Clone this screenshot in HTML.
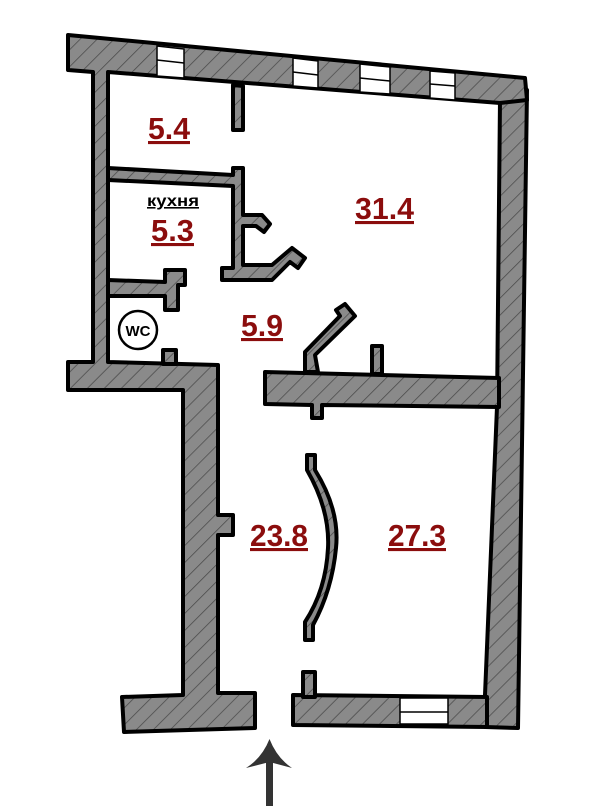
<!DOCTYPE html>
<html><head><meta charset="utf-8"><style>
html,body{margin:0;padding:0;background:#fff;}
svg{display:block}
.t{font-family:"Liberation Sans",sans-serif;font-weight:bold;fill:#8b0d0d;font-size:31px;text-decoration:underline;}
</style></head><body>
<svg width="600" height="806" viewBox="0 0 600 806" xmlns="http://www.w3.org/2000/svg">
<defs>
<pattern id="h" width="12" height="12" patternUnits="userSpaceOnUse" patternTransform="rotate(45)">
<rect width="12" height="12" fill="#8a8a8a"/>
<line x1="0" y1="0" x2="0" y2="12" stroke="#4a4a4a" stroke-width="1.5"/>
</pattern>
</defs>
<g fill="url(#h)" stroke="#000" stroke-width="4" stroke-linejoin="round">
<!-- right wall -->
<polygon points="527,90 518,728 485,727 485,695 497,407 500,100"/>
<!-- outer left + top + corridor wall -->
<polygon points="68,35 525,78 527,100 500,103 108,72 108,362 218,365 218,515 233,515 233,535 218,535 218,693 255,693 255,728 124,732 122,697 183,695 183,390 68,390 68,362 93,362 93,72 68,70"/>
<!-- bottom right wall -->
<polygon points="293,695 487,697 487,727 293,725"/>
<polygon points="303,672 315,672 315,697 303,697"/>
<!-- middle horizontal wall -->
<polygon points="265,372 499,378 499,407 322,405 322,418 312,418 312,405 265,404"/>
<!-- top stub -->
<polygon points="233,85 243,86 243,130 233,130"/>
<!-- 5.4 / kitchen wall -->
<polygon points="108,168 233,175 233,168 243,168 243,215 262,215 270,224 264,232 256,226 243,226 243,265 272,265 292,248 305,258 298,268 290,262 272,280 222,280 222,268 233,268 233,186 108,180"/>
<!-- kitchen / wc wall -->
<polygon points="108,280 165,282 165,270 185,270 185,285 178,285 178,310 165,310 165,296 108,296"/>
<!-- wc bottom stub -->
<polygon points="163,350 176,350 176,364 163,364"/>
<!-- diagonal door -->
<polygon points="305,372 305,352 340,316 336,310 345,304 355,316 315,355 318,372"/>
<polygon points="372,346 382,346 382,374 372,374"/>
<!-- arc -->
<path d="M307,455 L315,455 L315,470 Q340,510 336,548 Q332,590 313,625 L313,640 L305,640 L305,622 Q326,590 328,548 Q330,510 307,470 Z"/>
</g>
<!-- windows -->
<g fill="#fff" stroke="#000" stroke-width="1.5">
<polygon points="157,46 184,49 184,78 157,76"/>
<polygon points="293,58 318,61 318,88 293,86"/>
<polygon points="360,64 390,67 390,94 360,92"/>
<polygon points="430,71 455,73 455,100 430,98"/>
<rect x="400" y="698" width="48" height="26"/>
</g>
<g stroke="#000" stroke-width="1.5">
<line x1="157" y1="60" x2="184" y2="63"/><line x1="293" y1="72" x2="318" y2="75"/>
<line x1="360" y1="78" x2="390" y2="81"/><line x1="430" y1="84" x2="455" y2="86"/>
<line x1="400" y1="712" x2="448" y2="712"/>
</g>
<!-- WC -->
<circle cx="138" cy="330" r="19" fill="#fff" stroke="#000" stroke-width="2.5"/>
<text x="138" y="336" text-anchor="middle" font-family="Liberation Sans,sans-serif" font-weight="bold" font-size="15">WC</text>
<!-- labels -->
<text class="t" x="148" y="139" textLength="42" lengthAdjust="spacingAndGlyphs">5.4</text>
<text x="147" y="206" font-family="Liberation Sans,sans-serif" font-weight="bold" font-size="16" text-decoration="underline" textLength="52" lengthAdjust="spacingAndGlyphs">кухня</text>
<text class="t" x="151" y="241" textLength="43" lengthAdjust="spacingAndGlyphs">5.3</text>
<text class="t" x="355" y="219" textLength="59" lengthAdjust="spacingAndGlyphs">31.4</text>
<text class="t" x="241" y="336" textLength="42" lengthAdjust="spacingAndGlyphs">5.9</text>
<text class="t" x="250" y="546" textLength="58" lengthAdjust="spacingAndGlyphs">23.8</text>
<text class="t" x="388" y="546" textLength="58" lengthAdjust="spacingAndGlyphs">27.3</text>
<!-- arrow -->
<rect x="266" y="752" width="7" height="54" fill="#333"/>
<path d="M246,768 Q262,758 269.5,739 Q277,758 292,768 L269.5,762 Z" fill="#333"/>
</svg>
</body></html>
